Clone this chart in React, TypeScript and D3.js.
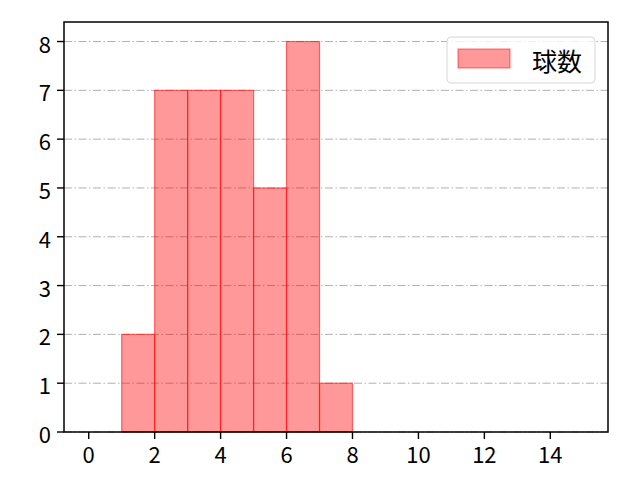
import * as d3 from 'd3'

// histogram bins [x0, x1) and counts
const binStarts = [1, 2, 3, 4, 5, 6, 7]
const counts    = [2, 7, 7, 7, 5, 8, 1]
const xTicks    = [0, 2, 4, 6, 8, 10, 12, 14]
const yTicks    = [0, 1, 2, 3, 4, 5, 6, 7, 8]
const seriesName = '球数'

const W = 640
const H = 480
const M = { left: 64, right: 32, top: 22, bottom: 48 }
const FONT = '"Noto Sans CJK JP", "Noto Sans", sans-serif'

export default function App() {
  const x = d3.scaleLinear().domain([-0.75, 15.75]).range([M.left, W - M.right])
  const y = d3.scaleLinear().domain([0, 8.4]).range([H - M.bottom, M.top])
  const [x0, x1] = x.range()
  const [y0, y1] = y.range()

  return (
    <svg width={W} height={H} style={{ position: 'absolute', left: 0, top: 0, background: '#fff' }}>
      {/* grid */}
      {yTicks.map((t) => (
        <line key={'g' + t} x1={x0} x2={x1} y1={y(t)} y2={y(t)}
          stroke="#b0b0b0" strokeWidth={1} strokeDasharray="8,2.5,1.5,2.5" />
      ))}

      {/* bars */}
      {binStarts.map((b, i) => (
        <rect key={'b' + b}
          x={x(b)} y={y(counts[i])}
          width={x(b + 1) - x(b)} height={y(0) - y(counts[i])}
          fill="rgba(255,0,0,0.4)" stroke="rgba(255,0,0,0.55)" strokeWidth={1.2} />
      ))}

      {/* spines */}
      <rect x={x0} y={y1} width={x1 - x0} height={y0 - y1} fill="none" stroke="#000" strokeWidth={1.5} />

      {/* x ticks */}
      {xTicks.map((t) => (
        <g key={'x' + t}>
          <line x1={x(t)} x2={x(t)} y1={y0} y2={y0 + 7} stroke="#000" strokeWidth={1.4} />
          <text x={x(t)} y={y0 + 31} textAnchor="middle"
            style={{ fontSize: 22, fontFamily: FONT, fill: '#000' }}>{t}</text>
        </g>
      ))}

      {/* y ticks */}
      {yTicks.map((t) => (
        <g key={'y' + t}>
          <line x1={x0 - 7} x2={x0} y1={y(t)} y2={y(t)} stroke="#000" strokeWidth={1.4} />
          <text x={x0 - 13} y={y(t) + 1} textAnchor="end" dominantBaseline="central"
            style={{ fontSize: 22, fontFamily: FONT, fill: '#000' }}>{t}</text>
        </g>
      ))}

      {/* legend */}
      <g>
        <rect x={447} y={37} width={148} height={46} rx={4} fill="rgba(255,255,255,0.8)" stroke="#d6d6d6" strokeWidth={1} />
        <rect x={458} y={49} width={52} height={19} fill="rgba(255,0,0,0.4)" stroke="rgba(255,0,0,0.55)" strokeWidth={1} />
        <text x={532} y={60} dominantBaseline="central"
          style={{ fontSize: 25, fontFamily: FONT, fill: '#000' }}>{seriesName}</text>
      </g>
    </svg>
  )
}
